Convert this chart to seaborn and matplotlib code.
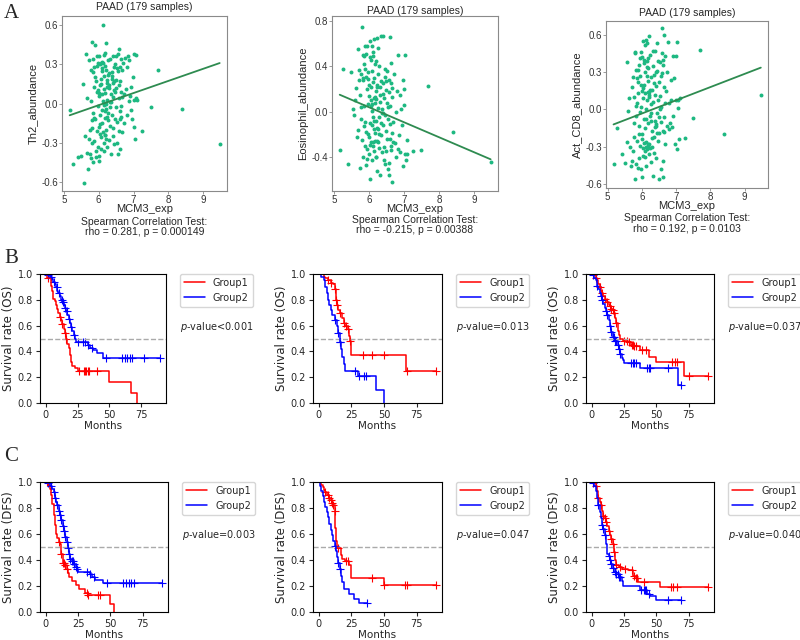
import numpy as np
import pandas as pd
import matplotlib
matplotlib.use("Agg")
import matplotlib.pyplot as plt
import seaborn as sns

# ---- panel A: MCM3 expression vs immune cell abundance (PAAD, 179 samples) ----
mcm3_exp = [5.17, 5.27, 5.42, 5.50, 5.55, 5.57, 7.25, 7.50, 7.69, 8.40, 9.47,
            5.60, 5.63, 5.66, 5.68, 5.70, 5.72, 5.73, 5.75, 5.76, 5.78,
            5.79, 5.80, 5.81, 5.82, 5.83, 5.84, 5.85, 5.86, 5.87, 5.88,
            5.89, 5.90, 5.91, 5.92, 5.93, 5.94, 5.95, 5.96, 5.97, 5.98,
            5.99, 6.00, 6.01, 6.02, 6.02, 6.03, 6.04, 6.05, 6.06, 6.07,
            6.08, 6.08, 6.09, 6.10, 6.10, 6.11, 6.12, 6.12, 6.13, 6.14,
            6.14, 6.15, 6.16, 6.16, 6.17, 6.18, 6.18, 6.19, 6.20, 6.20,
            6.21, 6.22, 6.22, 6.23, 6.24, 6.24, 6.25, 6.26, 6.27, 6.28,
            6.29, 6.30, 6.31, 6.32, 6.33, 6.34, 6.35, 6.36, 6.37, 6.38,
            6.39, 6.40, 6.41, 6.42, 6.43, 6.44, 6.45, 6.46, 6.47, 6.48,
            6.49, 6.50, 6.51, 6.52, 6.53, 6.54, 6.55, 6.56, 6.57, 6.58,
            6.59, 6.60, 6.61, 6.62, 6.63, 6.64, 6.65, 6.66, 6.67, 6.68,
            6.70, 6.72, 6.74, 6.76, 6.78, 6.80, 6.82, 6.84, 6.86, 6.88,
            6.90, 6.92, 6.94, 6.96, 6.98, 7.00, 7.01, 7.02, 7.04, 7.06,
            7.08, 7.10,
            5.85, 5.92, 5.98, 6.03, 6.06, 6.11, 6.15, 6.19, 6.23, 6.27,
            6.05, 6.13, 6.21, 6.29, 6.33, 6.37, 6.41, 6.45, 6.55, 6.60,
            5.77, 5.88, 5.95, 6.01, 6.09, 6.17, 6.25, 6.35, 6.50, 6.62,
            5.82, 6.00, 6.18, 6.40, 6.58, 6.65]

th2_abundance = [-0.05, -0.46, -0.41, -0.40, 0.15, -0.61, -0.21, -0.03, 0.26, -0.04, -0.31,
                 -0.25, 0.38, -0.38, 0.04, -0.50, 0.33, -0.27, -0.39, -0.20, 0.02,
                 -0.42, 0.47, -0.30, -0.13, 0.24, -0.45, -0.07, 0.28, 0.13, -0.29,
                 0.20, -0.12, 0.45, -0.36, 0.17, 0.09, -0.21, 0.36, -0.02, -0.33,
                 0.31, -0.18, 0.06, 0.36, -0.44, 0.30, -0.09, 0.14, 0.31, -0.26,
                 -0.35, 0.19, 0.25, -0.05, 0.32, -0.15, 0.60, -0.22, 0.02, 0.11,
                 -0.30, 0.37, -0.01, 0.21, -0.11, 0.08, -0.24, 0.29, 0.46, -0.04,
                 0.00, -0.20, 0.26, 0.13, -0.33, 0.03, 0.16, -0.13, 0.33, -0.07,
                 0.23, -0.28, 0.12, 0.01, 0.34, -0.17, 0.07, -0.39, 0.24, 0.19,
                 -0.09, 0.36, -0.25, 0.05, 0.28, -0.31, 0.17, 0.30, -0.12, 0.09,
                 -0.03, 0.36, 0.18, -0.30, 0.27, -0.14, 0.38, -0.39, 0.14, -0.21,
                 0.42, -0.06, 0.17, -0.12, 0.09, 0.34, -0.02, 0.26, 0.05, -0.22,
                 0.31, 0.07, -0.15, 0.35, 0.11, 0.28, -0.09, 0.36, 0.02, 0.33,
                 0.06, -0.05, 0.13, -0.12, 0.20, 0.38, -0.18, 0.03, -0.27, 0.37,
                 0.04, 0.03,
                 0.34, -0.41, 0.10, -0.23, 0.15, 0.27, -0.36, 0.39, -0.10, 0.22,
                 -0.16, 0.31, -0.27, 0.14, -0.03, 0.21, -0.19, 0.10, 0.25, -0.35,
                 0.26, -0.11, 0.29, -0.40, 0.07, -0.24, 0.18, 0.01, 0.12, 0.28,
                 -0.19, 0.08, -0.06, 0.16, 0.04, -0.10]

eosinophil_abundance = [-0.34, 0.38, -0.46, 0.35, 0.02, -0.03, -0.35, -0.34, 0.23, -0.18, -0.44,
                        0.10, 0.21, -0.22, 0.55, -0.16, 0.37, 0.28, -0.50, 0.15, 0.33,
                        0.04, 0.75, -0.25, 0.50, -0.40, 0.28, 0.05, -0.13, 0.49, -0.30,
                        0.58, -0.09, 0.31, 0.51, -0.47, 0.20, -0.33, 0.58, -0.20, 0.07,
                        0.29, -0.37, 0.14, 0.62, -0.59, 0.48, -0.10, 0.22, 0.46, -0.27,
                        0.58, 0.01, -0.43, 0.36, -0.12, 0.26, -0.27, 0.49, -0.05, 0.12,
                        -0.35, 0.64, -0.15, 0.30, -0.26, 0.08, 0.42, -0.08, 0.18, -0.40,
                        0.11, -0.26, 0.24, -0.52, 0.65, -0.14, 0.03, 0.33, -0.27, -0.05,
                        0.40, -0.32, 0.15, -0.56, 0.09, 0.67, -0.21, 0.27, -0.36, 0.02,
                        0.67, -0.12, 0.25, -0.43, 0.12, -0.31, 0.38, -0.03, 0.31, -0.17,
                        0.19, -0.35, 0.08, -0.24, 0.36, -0.51, -0.06, 0.28, -0.56, 0.17,
                        0.66, -0.11, 0.05, 0.25, -0.30, 0.43, -0.19, 0.13, -0.62, -0.27,
                        -0.09, 0.33, -0.28, 0.00, -0.40, 0.18, -0.33, 0.50, -0.21, 0.15,
                        -0.36, 0.02, -0.12, 0.28, -0.48, 0.20, 0.06, 0.50, -0.37, -0.43,
                        -0.37, -0.25,
                        0.42, -0.18, 0.35, -0.29, 0.05, 0.53, -0.08, -0.40, 0.22, -0.15,
                        0.10, -0.30, 0.45, -0.20, 0.22, -0.01, 0.16, -0.46, 0.04, -0.24,
                        -0.06, 0.38, -0.42, 0.24, 0.07, -0.19, 0.56, -0.10, 0.27, -0.34,
                        0.30, -0.22, 0.13, -0.01, -0.45, 0.21]

act_cd8_abundance = [-0.44, -0.15, -0.36, -0.43, 0.38, -0.26, -0.23, -0.07, 0.48, -0.20, 0.12,
                     -0.01, 0.09, -0.30, -0.45, 0.18, -0.41, -0.33, 0.26, -0.22, 0.10,
                     0.45, -0.56, 0.46, -0.05, 0.32, -0.44, 0.05, -0.25, 0.22, -0.47,
                     0.13, -0.39, 0.36, -0.13, 0.41, -0.29, 0.27, 0.02, -0.48, 0.20,
                     -0.54, 0.42, -0.20, 0.09, 0.55, -0.31, 0.17, -0.08, 0.40, -0.27,
                     0.30, -0.38, 0.52, -0.15, 0.13, -0.30, 0.56, 0.00, -0.26, 0.27,
                     0.39, -0.32, 0.08, 0.53, -0.11, 0.23, -0.29, 0.33, -0.36, 0.10,
                     0.59, -0.28, 0.14, -0.05, 0.44, -0.31, 0.04, -0.42, 0.26, -0.17,
                     0.16, -0.30, 0.35, -0.53, 0.06, -0.22, 0.28, -0.35, 0.12, -0.09,
                     0.47, -0.39, 0.19, -0.13, 0.31, -0.03, 0.53, -0.25, 0.08, 0.39,
                     -0.19, 0.22, -0.56, 0.11, 0.00, 0.38, -0.48, 0.27, -0.10, 0.45,
                     0.65, -0.54, 0.40, -0.17, 0.18, 0.60, -0.06, 0.43, -0.28, 0.05,
                     0.15, -0.13, 0.30, 0.54, -0.16, 0.05, -0.11, 0.08, 0.24, -0.14,
                     0.43, -0.05, 0.25, -0.28, 0.43, 0.08, -0.32, 0.54, 0.01, 0.08,
                     -0.24, 0.09,
                     0.25, -0.20, 0.46, -0.37, 0.20, -0.08, 0.34, -0.28, 0.16, -0.03,
                     0.37, -0.45, 0.12, -0.23, 0.47, -0.14, 0.30, -0.19, 0.02, -0.41,
                     -0.11, 0.32, -0.02, 0.15, -0.33, 0.41, -0.09, 0.21, -0.06, 0.36,
                     0.03, -0.24, 0.14, -0.12, 0.29, -0.18]

# fitted lines (slope, intercept) as drawn in the reference
th2_fit = (0.093, -0.571)
eos_fit = (-0.1326, 0.8355)
cd8_fit = (0.106, -0.668)
spearman_text = ["rho = 0.281, p = 0.000149",
                 "rho = -0.215, p = 0.00388",
                 "rho = 0.192, p = 0.0103"]

# ---- panels B / C: Kaplan-Meier curves (time, survival after step, censor times) ----
b1_g1_t = [0, 1, 4, 4.5, 5, 5.5, 6, 7, 8, 9, 10, 11, 12, 13, 14, 15, 16, 17, 18, 19, 20, 21, 23, 25, 50, 67, 72]
b1_g1_s = [1, .97, .94, .91, .87, .84, .81, .79, .76, .73, .70, .67, .64, .61, .57, .54, .50, .46, .43, .37, .32, .29, .27, .245, .16, .08, 0]
b1_g1_c = [1.5, 11, 13, 15, 16, 26, 30, 31, 32, 33, 34, 40]
b1_g2_t = [0, 1, 3, 5, 6, 7, 8, 9, 10, 11, 12, 13, 14, 15, 16, 17, 18, 19, 20, 21, 22, 23, 24, 33, 35, 37, 40, 45]
b1_g2_s = [1, .99, .98, .96, .94, .92, .90, .87, .85, .83, .80, .78, .76, .74, .71, .68, .65, .62, .59, .56, .53, .50, .47, .45, .43, .41, .39, .35]
b1_g2_c = [2, 4, 6.5, 8.5, 10.5, 12.5, 13.5, 15, 16.5, 18.5, 20, 22.5, 25, 29, 31, 33, 36, 47, 60, 62, 64, 66, 68, 77, 90]

b2_g1_t = [0, 4, 5, 7, 9, 11, 12, 13, 14, 15, 16, 18, 19, 20, 22, 23, 24, 25, 67]
b2_g1_s = [1, .98, .97, .95, .93, .92, .88, .80, .76, .72, .70, .66, .62, .60, .57, .52, .48, .37, .25]
b2_g1_c = [7, 9, 12, 13, 14, 16, 19, 21, 22, 24, 34, 41, 50, 68, 90]
b2_g2_t = [0, 2, 4, 5, 6, 7, 8, 9, 10, 12, 14, 15, 16, 17, 18, 19, 20, 30, 44, 50]
b2_g2_s = [1, .98, .95, .90, .85, .80, .76, .72, .68, .64, .60, .54, .47, .42, .36, .30, .25, .21, .10, 0]
b2_g2_c = [12, 15, 16, 16.5, 28, 31, 35, 36]

b3_g1_t = [0, 2, 3, 4, 5, 6, 7, 8, 9, 10, 11, 12, 13, 14, 15, 16, 17, 18, 19, 20, 21, 22, 24, 28, 30, 33, 37, 44, 50, 71]
b3_g1_s = [1, .99, .97, .95, .92, .90, .87, .85, .83, .81, .80, .78, .76, .75, .73, .72, .70, .66, .62, .56, .53, .50, .48, .47, .45, .44, .41, .36, .32, .21]
b3_g1_c = [3, 6, 8, 10, 12, 14, 15, 16, 17, 19, 25, 27, 29, 31, 32, 33, 34, 39, 42, 62, 64, 66, 75, 90]
b3_g2_t = [0, 1, 2, 3, 4, 5, 6, 7, 8, 9, 10, 11, 12, 13, 14, 15, 16, 18, 20, 21, 22, 23, 24, 25, 37, 67]
b3_g2_s = [1, .99, .97, .95, .91, .88, .85, .83, .80, .77, .74, .71, .68, .64, .60, .55, .51, .48, .45, .42, .38, .35, .33, .31, .27, .14]
b3_g2_c = [1, 4, 7, 8, 11, 12, 14, 15, 16, 17, 18, 19, 20, 21, 22, 30, 32, 33, 34, 43, 44, 45, 59, 69]

c1_g1_t = [0, 2, 3, 4, 5, 6, 7, 8, 9, 10, 11, 12, 13, 15, 16, 17, 18, 20, 23, 26, 30, 33, 50, 53]
c1_g1_s = [1, .98, .95, .90, .83, .75, .67, .60, .57, .54, .52, .45, .38, .36, .33, .30, .27, .24, .21, .18, .15, .13, .065, 0]
c1_g1_c = [1, 10, 12, 13, 14, 15, 16, 32, 33, 40, 42]
c1_g2_t = [0, 1, 3, 5, 6, 7, 8, 9, 10, 11, 12, 13, 14, 15, 16, 17, 18, 19, 20, 22, 23, 24, 25, 34, 36, 38, 44]
c1_g2_s = [1, .99, .97, .95, .92, .88, .85, .82, .78, .75, .71, .66, .62, .58, .54, .49, .45, .41, .39, .37, .35, .33, .31, .29, .27, .25, .22]
c1_g2_c = [2, 4, 6, 7, 9, 10, 11, 12, 13, 14, 15, 16, 17, 18, 19, 20, 21, 22, 23, 24, 32, 34, 37, 47, 60, 62, 64, 66, 68, 90]

c2_g1_t = [0, 2, 3, 4, 5, 6, 8, 9, 10, 11, 12, 12.5, 13, 14, 17, 18, 20, 23, 25, 50]
c2_g1_s = [1, .98, .96, .94, .92, .90, .88, .86, .84, .82, .78, .65, .55, .49, .44, .41, .39, .36, .26, .21]
c2_g1_c = [5, 7, 8, 9, 10, 11, 12, 15, 21, 22, 41, 50, 66, 68, 90]
c2_g2_t = [0, 1, 2, 3, 4, 5, 6, 7, 8, 9, 10, 11, 12, 13, 14, 15, 16, 17, 18, 19, 23, 27, 31]
c2_g2_s = [1, .97, .93, .89, .85, .81, .77, .73, .68, .63, .59, .55, .51, .47, .42, .38, .33, .28, .23, .18, .14, .10, .07]
c2_g2_c = [12, 15, 16, 37]

c3_g1_t = [0, 2, 3, 4, 5, 6, 7, 8, 9, 10, 11, 12, 13, 14, 15, 16, 17, 18, 19, 21, 23, 28, 32, 34, 36, 53]
c3_g1_s = [1, .99, .97, .93, .88, .85, .82, .78, .74, .72, .69, .66, .62, .59, .56, .52, .46, .40, .36, .35, .33, .32, .28, .26, .23, .19]
c3_g1_c = [1, 3, 5, 7, 9, 10, 11, 13, 15, 16, 17, 19, 22, 26, 31, 33, 34, 35, 40, 61, 63, 66, 90]
c3_g2_t = [0, 1, 2, 3, 4, 5, 6, 7, 8, 9, 10, 11, 12, 13, 14, 15, 16, 17, 19, 21, 23, 24, 37, 43, 45, 50]
c3_g2_s = [1, .99, .97, .93, .88, .82, .77, .72, .67, .64, .59, .52, .45, .43, .40, .37, .34, .31, .29, .27, .24, .20, .17, .14, .12, .09]
c3_g2_c = [1, 5, 8, 9, 10, 13, 14, 15, 16, 18, 19, 20, 21, 22, 38, 40, 41, 42, 44, 59, 69]

p_values = ["<0.001", "=0.013", "=0.037", "=0.003", "=0.047", "=0.040"]

sns.set_style("ticks")
plt.rcParams["axes.unicode_minus"] = False
plt.rcParams["font.family"] = ["DejaVu Sans"]

W, H = 800, 640
fig = plt.figure(figsize=(8, 6.4), dpi=100)


def rect(l, t, r, b):
    return [l / W, 1 - b / H, (r - l) / W, (b - t) / H]


pt_color = "#1db881"
line_color = "#2e8b50"
grey = "#8a8a8a"
sans = "Liberation Sans"


def corr_panel(box, y, ylabel, fit, ylim, yticks, stat, text_y):
    ax = fig.add_axes(rect(*box))
    sns.scatterplot(x=mcm3_exp, y=y, color=pt_color, s=8, linewidth=0, ax=ax)
    xs = np.array([min(mcm3_exp), max(mcm3_exp)])
    sns.lineplot(x=xs, y=fit[0] * xs + fit[1], color=line_color, lw=1.3, ax=ax)
    ax.set_xlim(4.95, 9.68)
    ax.set_ylim(*ylim)
    ax.set_xticks([5, 6, 7, 8, 9])
    ax.set_yticks(yticks)
    ax.set_xticklabels([str(v) for v in [5, 6, 7, 8, 9]], family=sans, fontsize=7, color="#333333")
    ax.set_yticklabels(["%.1f" % v for v in yticks], family=sans, fontsize=7, color="#333333")
    ax.tick_params(length=2, width=0.6, color=grey, pad=1)
    for sp in ax.spines.values():
        sp.set_color(grey)
        sp.set_linewidth(0.8)
    ax.set_xlabel("")
    ax.set_ylabel(ylabel, family=sans, fontsize=8, labelpad=2)
    cx = (box[0] + box[2]) / 2 / W
    lines = ["PAAD (179 samples)", "MCM3_exp", "Spearman Correlation Test:", stat]
    sizes = [7.5, 8, 7.5, 7.5]
    for txt, ypx, fs in zip(lines, text_y, sizes):
        fig.text(cx, 1 - ypx / H, txt, family=sans, fontsize=fs, ha="center", va="center")


corr_panel((62, 16, 227, 191), th2_abundance, "Th2_abundance", th2_fit, (-0.67, 0.67),
           [-0.6, -0.3, 0.0, 0.3, 0.6], spearman_text[0], (7, 209, 222, 232))
corr_panel((332, 16, 498, 191), eosinophil_abundance, "Eosinophil_abundance", eos_fit, (-0.70, 0.845),
           [-0.4, 0.0, 0.4, 0.8], spearman_text[1], (11, 209, 220, 230))
corr_panel((606, 21, 768, 188), act_cd8_abundance, "Act_CD8_abundance", cd8_fit, (-0.63, 0.71),
           [-0.6, -0.3, 0.0, 0.3, 0.6], spearman_text[2], (13, 206, 218, 229))


def km_curve(ax, t, s, cens, color, label):
    t = list(t)
    s = list(s)
    if max(cens) > t[-1]:
        t.append(max(cens))
        s.append(s[-1])
    df = pd.DataFrame({"Months": t, "surv": s})
    sns.lineplot(data=df, x="Months", y="surv", drawstyle="steps-post", color=color,
                 lw=1.1, label=label, estimator=None, sort=False, ax=ax)
    idx = np.searchsorted(t, cens, side="right") - 1
    cy = np.array(s)[idx]
    sns.scatterplot(x=cens, y=cy, marker="+", color=color, s=30, linewidth=0.8,
                    legend=False, ax=ax)


def km_panel(box, g1, g2, ylabel, pval):
    ax = fig.add_axes(rect(*box))
    ax.axhline(0.5, ls="--", color="#aaaaaa", lw=1.0)
    km_curve(ax, *g1, color="#ff0000", label="Group1")
    km_curve(ax, *g2, color="#0000ff", label="Group2")
    ax.set_xlim(-4.5, 94.5)
    ax.set_ylim(0, 1)
    ax.set_xticks([0, 25, 50, 75])
    ax.set_yticks([0, 0.2, 0.4, 0.6, 0.8, 1.0])
    ax.tick_params(labelsize=7, length=3, width=0.8, pad=2)
    for sp in ax.spines.values():
        sp.set_color("black")
        sp.set_linewidth(0.8)
    ax.set_xlabel("Months", fontsize=7.5, labelpad=1)
    ax.set_ylabel(ylabel, fontsize=8.5, labelpad=2)
    ax.legend(loc="upper left", bbox_to_anchor=(1.11, 1.0), borderaxespad=0, fontsize=7,
              handlelength=2.2, frameon=True, edgecolor="#cccccc")
    ax.text(1.11, 0.59, r"$p$-value" + pval, transform=ax.transAxes, fontsize=7, va="center")


km_panel((40, 274, 166, 403), (b1_g1_t, b1_g1_s, b1_g1_c), (b1_g2_t, b1_g2_s, b1_g2_c), "Survival rate (OS)", p_values[0])
km_panel((313, 274, 442, 403), (b2_g1_t, b2_g1_s, b2_g1_c), (b2_g2_t, b2_g2_s, b2_g2_c), "Survival rate (OS)", p_values[1])
km_panel((586, 274, 714, 403), (b3_g1_t, b3_g1_s, b3_g1_c), (b3_g2_t, b3_g2_s, b3_g2_c), "Survival rate (OS)", p_values[2])
km_panel((40, 482, 168, 612), (c1_g1_t, c1_g1_s, c1_g1_c), (c1_g2_t, c1_g2_s, c1_g2_c), "Survival rate (DFS)", p_values[3])
km_panel((313, 482, 442, 612), (c2_g1_t, c2_g1_s, c2_g1_c), (c2_g2_t, c2_g2_s, c2_g2_c), "Survival rate (DFS)", p_values[4])
km_panel((586, 482, 714, 612), (c3_g1_t, c3_g1_s, c3_g1_c), (c3_g2_t, c3_g2_s, c3_g2_c), "Survival rate (DFS)", p_values[5])

for letter, ypx in [("A", 4), ("B", 249), ("C", 447)]:
    fig.text(4 / W, 1 - ypx / H, letter, family="Liberation Serif", fontsize=15, va="top", ha="left")

fig.savefig("out.png", dpi=100)
